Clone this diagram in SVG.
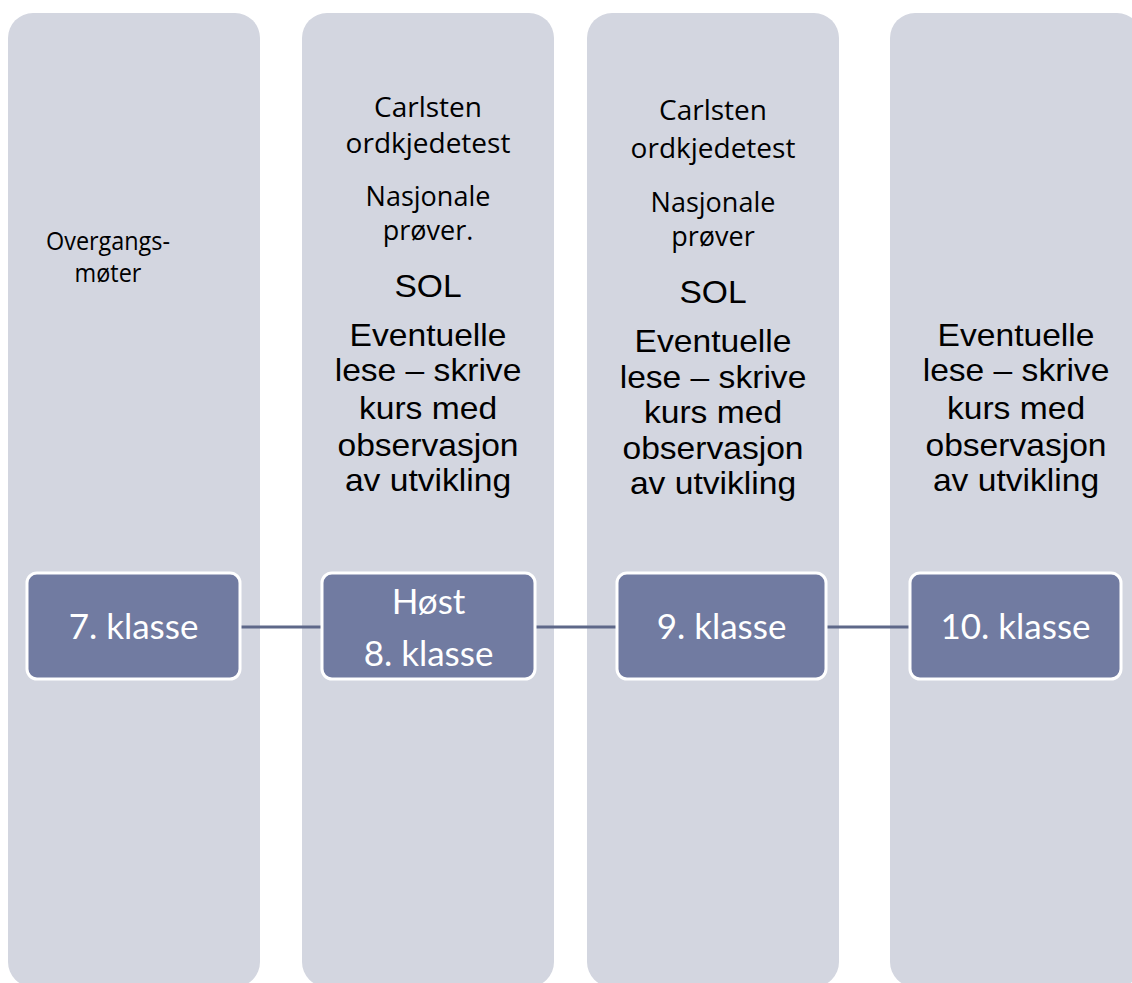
<svg xmlns="http://www.w3.org/2000/svg" width="1132" height="983" viewBox="0 0 1132 983">
  <style>
    .col { fill: #D3D6E0; }
    .box { fill: #717BA1; stroke: #FFFFFF; stroke-width: 3; }
    .conn { stroke: #5E6889; stroke-width: 3; fill: none; }
    .seg { font-family: "Open Sans", "Noto Sans", sans-serif; font-size: 28px; fill: #000; text-anchor: middle; }
    .ar { font-family: "Liberation Sans", Arial, sans-serif; font-size: 32px; fill: #000; text-anchor: middle; }
    .bx { font-family: Lato, "Open Sans", sans-serif; font-size: 35px; fill: #FFFFFF; text-anchor: middle; }
  </style>
  <rect width="1132" height="983" fill="#FFFFFF"/>

  <g id="columns">
    <rect id="col1" class="col" x="8" y="13" width="252" height="974" rx="25" ry="25"/>
    <rect id="col2" class="col" x="302" y="13" width="252" height="974" rx="25" ry="25"/>
    <rect id="col3" class="col" x="587" y="13" width="252" height="974" rx="25" ry="25"/>
    <rect id="col4" class="col" x="890" y="13" width="252" height="974" rx="25" ry="25"/>
  </g>

  <g id="col1-text">
    <g transform="translate(108 0) scale(0.9 1)">
      <text class="seg" style="font-size:26px" x="0" y="250">Overgangs-</text>
      <text class="seg" style="font-size:26px" x="0" y="282">møter</text>
    </g>
  </g>

  <g id="col2-text">
    <text class="seg" x="428" y="117">Carlsten</text>
    <text class="seg" x="428" y="153">ordkjedetest</text>
    <text class="seg" style="font-size:27px" x="428" y="206">Nasjonale</text>
    <text class="seg" style="font-size:27px" x="428" y="240">prøver.</text>
    <g transform="translate(428 0) scale(1.05 1)">
      <text class="ar" x="0" y="297">SOL</text>
      <text class="ar" x="0" y="346">Eventuelle</text>
      <text class="ar" x="0" y="381">lese – skrive</text>
      <text class="ar" x="0" y="419">kurs med</text>
      <text class="ar" x="0" y="456">observasjon</text>
      <text class="ar" x="0" y="491">av utvikling</text>
    </g>
  </g>

  <g id="col3-text">
    <text class="seg" x="713" y="120">Carlsten</text>
    <text class="seg" x="713" y="158">ordkjedetest</text>
    <text class="seg" style="font-size:27px" x="713" y="212">Nasjonale</text>
    <text class="seg" style="font-size:27px" x="713" y="246">prøver</text>
    <g transform="translate(713 0) scale(1.05 1)">
      <text class="ar" x="0" y="303">SOL</text>
      <text class="ar" x="0" y="352">Eventuelle</text>
      <text class="ar" x="0" y="388">lese – skrive</text>
      <text class="ar" x="0" y="423">kurs med</text>
      <text class="ar" x="0" y="459">observasjon</text>
      <text class="ar" x="0" y="494">av utvikling</text>
    </g>
  </g>

  <g id="col4-text">
    <g transform="translate(1016 0) scale(1.05 1)">
      <text class="ar" x="0" y="346">Eventuelle</text>
      <text class="ar" x="0" y="381">lese – skrive</text>
      <text class="ar" x="0" y="419">kurs med</text>
      <text class="ar" x="0" y="456">observasjon</text>
      <text class="ar" x="0" y="491">av utvikling</text>
    </g>
  </g>

  <g id="connectors">
    <line class="conn" x1="240" y1="627" x2="322" y2="627"/>
    <line class="conn" x1="535" y1="627" x2="617" y2="627"/>
    <line class="conn" x1="826" y1="627" x2="910" y2="627"/>
  </g>

  <g id="node-7">
    <rect class="box" x="27" y="573" width="213" height="106" rx="10" ry="10"/>
    <text class="bx" x="133.5" y="639">7. klasse</text>
  </g>
  <g id="node-8">
    <rect class="box" x="322" y="573" width="213" height="106" rx="10" ry="10"/>
    <text class="bx" x="428.5" y="614">Høst</text>
    <text class="bx" x="428.5" y="666">8. klasse</text>
  </g>
  <g id="node-9">
    <rect class="box" x="617" y="573" width="209" height="106" rx="10" ry="10"/>
    <text class="bx" x="721.5" y="639">9. klasse</text>
  </g>
  <g id="node-10">
    <rect class="box" x="910" y="573" width="211" height="106" rx="10" ry="10"/>
    <text class="bx" x="1015.5" y="639">10. klasse</text>
  </g>
</svg>
